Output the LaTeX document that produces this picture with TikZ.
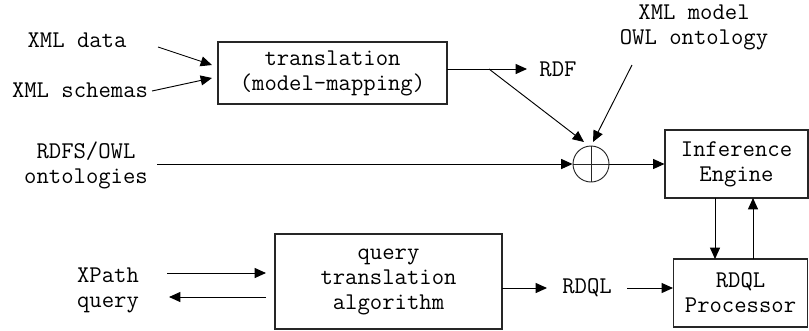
\documentclass[tikz,border=0pt]{standalone}
\usepackage{fontspec}
\usetikzlibrary{arrows.meta}
\begin{document}
\begin{tikzpicture}[x=0.75pt,y=-0.75pt,
  every node/.style={font=\ttfamily\fontsize{18}{18.75}\selectfont, inner sep=0pt, align=center},
  blk/.style={draw=black!85, line width=0.8pt},
  conn/.style={draw=black, line width=0.7pt},
  arr/.style={conn, -{Triangle[length=8.5pt,width=7.5pt]}}]
\useasboundingbox (0,0) rectangle (809,330);
% boxes
\node[blk, minimum width=229*0.75pt, minimum height=62*0.75pt] (trans) at (332.5,73) {translation\\(model-mapping)};
\node[blk, minimum width=143*0.75pt, minimum height=68*0.75pt] (inf) at (736.5,164) {Inference\\Engine};
\node[blk, minimum width=134*0.75pt, minimum height=68*0.75pt] (proc) at (740.5,293) {RDQL\\Processor};
\node[blk, minimum width=227*0.75pt, minimum height=95*0.75pt] (qta) at (388.5,281.5) {query\\translation\\algorithm};
\node[draw=black!85, line width=0.7pt, circle, minimum size=36*0.75pt] (sum) at (591,164) {};
\draw[line width=0.6pt, black!85] (sum.north) -- (sum.south) (sum.west) -- (sum.east);
% labels
\node (xmldata) at (77,40) {XML data};
\node (xmlschemas) at (80,90) {XML schemas};
\node (rdf) at (558,69) {RDF};
\node (xmlmodel) at (694,27) {XML model\\OWL ontology};
\node (rdfs) at (86,165) {RDFS/OWL\\ontologies};
\node (xpath) at (108,290) {XPath\\query};
\node (rdql) at (587,288) {RDQL};
% coordinates
\coordinate (a1) at (158,47); \coordinate (a2) at (212,65);
\coordinate (b1) at (152,91); \coordinate (b2) at (212,78);
\coordinate (c1) at (447,69); \coordinate (c2) at (527,69);
\coordinate (d1) at (489,69); \coordinate (d2) at (584,142);
\coordinate (e1) at (632,65); \coordinate (e2) at (593,142);
\coordinate (f1) at (157,164);
\coordinate (g1) at (715,198); \coordinate (g2) at (715,259);
\coordinate (h1) at (753,259); \coordinate (h2) at (753,198);
\coordinate (i1) at (502,288); \coordinate (i2) at (547,288);
\coordinate (j1) at (627,288);
\coordinate (k1) at (167,273); \coordinate (k2) at (266,273);
\coordinate (l1) at (266,297); \coordinate (l2) at (169,297);
% connectors
\draw[arr] (a1) -- (a2);
\draw[arr] (b1) -- (b2);
\draw[arr] (c1) -- (c2);
\draw[arr] (d1) -- (d2);
\draw[arr] (e1) -- (e2);
\draw[arr] (f1) -- (sum.west);
\draw[arr] (sum.east) -- (inf.west |- sum.east);
\draw[arr] (g1) -- (g2);
\draw[arr] (h1) -- (h2);
\draw[arr] (i1) -- (i2);
\draw[arr] (j1) -- (proc.west |- j1);
\draw[arr] (k1) -- (k2);
\draw[arr] (l1) -- (l2);
\end{tikzpicture}
\end{document}
